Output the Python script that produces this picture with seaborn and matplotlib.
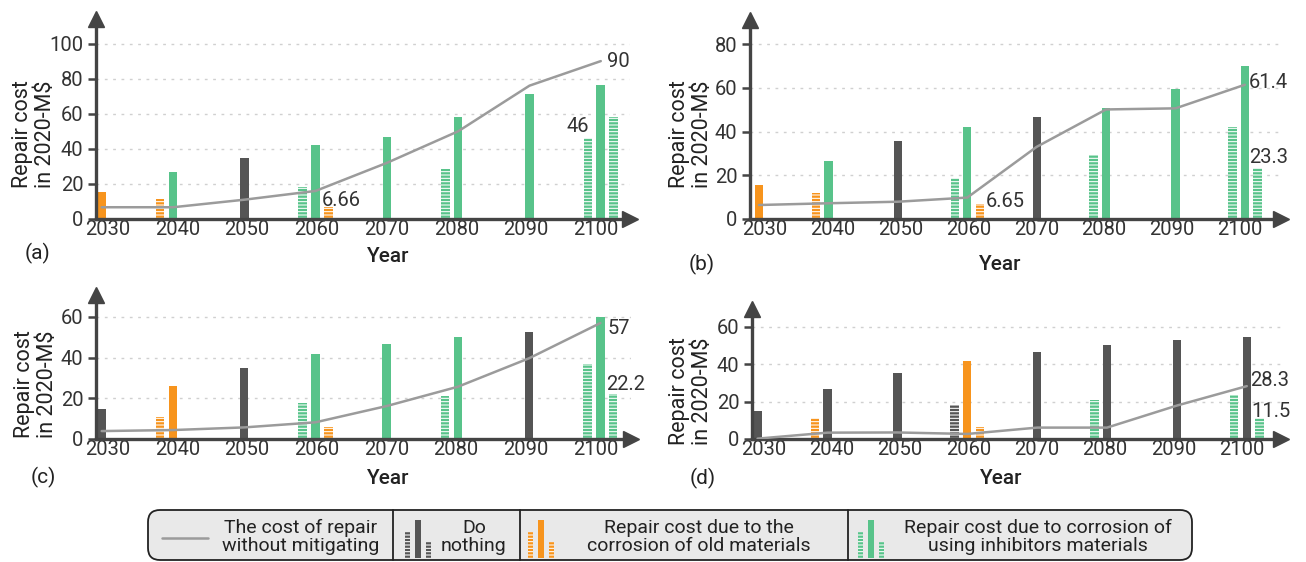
import numpy as np
import pandas as pd
import matplotlib.pyplot as plt
import seaborn as sns
from matplotlib.patches import FancyBboxPatch, Rectangle
from matplotlib.lines import Line2D
from matplotlib.transforms import Affine2D, ScaledTranslation

sns.set_theme(style='white')
plt.rcParams['font.family'] = ['Roboto', 'DejaVu Sans']
plt.rcParams['hatch.linewidth'] = 0.75

nan = np.nan
years = [2030, 2040, 2050, 2060, 2070, 2080, 2090, 2100]

# (a)
a_line = [6.7, 6.7, 11, 16, 32, 50, 76, 90]
a_mid = [15.5, 27, 34.5, 42, 46.5, 58, 71.5, 76.5]
a_mid_cat = ['old', 'inh', 'none', 'inh', 'inh', 'inh', 'inh', 'inh']
a_left = [nan, 11.5, nan, 18.5, nan, 28.7, nan, 46]
a_left_cat = [None, 'old', None, 'inh', None, 'inh', None, 'inh']
a_right = [nan, nan, nan, 6.66, nan, nan, nan, 58]
a_right_cat = [None, None, None, 'old', None, None, None, 'inh']

# (b)
b_line = [6.4, 7.2, 7.9, 9.8, 33, 50.1, 50.6, 61.4]
b_mid = [15.5, 26.7, 35.7, 42.2, 46.8, 50.6, 59.4, 70]
b_mid_cat = ['old', 'inh', 'none', 'inh', 'none', 'inh', 'inh', 'inh']
b_left = [nan, 12, nan, 18.6, nan, 29.3, nan, 42.2]
b_left_cat = [None, 'old', None, 'inh', None, 'inh', None, 'inh']
b_right = [nan, nan, nan, 6.65, nan, nan, nan, 23.3]
b_right_cat = [None, None, None, 'old', None, None, None, 'inh']

# (c)
c_line = [3.9, 4.4, 5.7, 8.2, 16.2, 25.7, 39.7, 57]
c_mid = [14.6, 26.2, 35.1, 41.6, 46.7, 50.3, 52.8, 59.8]
c_mid_cat = ['none', 'old', 'none', 'inh', 'inh', 'inh', 'none', 'inh']
c_left = [nan, 11, nan, 17.7, nan, 21.1, nan, 36.7]
c_left_cat = [None, 'old', None, 'inh', None, 'inh', None, 'inh']
c_right = [nan, nan, nan, 6, nan, nan, nan, 22.2]
c_right_cat = [None, None, None, 'old', None, None, None, 'inh']

# (d)
d_line = [0.2, 3.4, 3.5, 2.7, 6.1, 6.1, 17.9, 28.3]
d_mid = [15, 26.8, 35.2, 41.8, 46.4, 50.2, 53, 54.8]
d_mid_cat = ['none', 'none', 'none', 'old', 'none', 'none', 'none', 'none']
d_left = [nan, 11.4, nan, 18.2, nan, 20.9, nan, 23.6]
d_left_cat = [None, 'old', None, 'none', None, 'inh', None, 'inh']
d_right = [nan, nan, nan, 6.6, nan, nan, nan, 11.5]
d_right_cat = [None, None, None, 'old', None, None, None, 'inh']

legend_labels = ['The cost of repair\nwithout mitigating', 'Do\nnothing',
                 'Repair cost due to the\ncorrosion of old materials',
                 'Repair cost due to corrosion of\nusing inhibitors materials']

colors = {'none': '#555555', 'old': '#F7941D', 'inh': '#58C38A'}
line_col = '#9b9b9b'
axis_col = '#444444'
OFF = 1.8      # offset of the striped bars (years)
BAR_W = 1.2    # bar width (years)
W, H = 1306, 562

fig = plt.figure(figsize=(W / 100, H / 100), dpi=100)
# pixel coords measured from the top-left corner
tr = Affine2D().scale(1, -1).translate(0, H).scale(1 / W, 1 / H) + fig.transFigure


def draw_panel(rect, xlim, ylim, yticks, line, mid, mid_cat, left, left_cat, right, right_cat,
               tag, tag_xy, year_xy, ylab_xy, notes):
    l, t, r, b = rect
    ax = fig.add_axes([l / W, 1 - b / H, (r - l) / W, (b - t) / H])
    rows = []
    for i, yr in enumerate(years):
        for off, vals, cats in [(-OFF, left, left_cat), (0, mid, mid_cat), (OFF, right, right_cat)]:
            if not np.isnan(vals[i]):
                rows.append((yr + off, vals[i], cats[i]))
    df = pd.DataFrame(rows, columns=['x', 'value', 'cat'])
    w = BAR_W / np.diff(np.unique(df['x'])).min()
    sns.barplot(data=df, x='x', y='value', hue='cat', palette=colors, native_scale=True,
                width=w, dodge=False, legend=False, errorbar=None, linewidth=0,
                saturation=1, ax=ax)
    for p in ax.patches:
        c = p.get_x() + p.get_width() / 2
        if abs(c - round(c / 10) * 10) > 0.5:
            p.set_hatch('-----')
            p.set_edgecolor('white')
            p.set_linewidth(0)
    sns.lineplot(x=years, y=line, color=line_col, linewidth=1.8, ax=ax, zorder=3)

    ax.set_xlim(*xlim)
    ax.set_ylim(*ylim)
    ax.set_xticks(years)
    ax.set_xticklabels([str(y) for y in years])
    ax.set_yticks(yticks)
    ax.set_axisbelow(True)
    ax.grid(axis='y', color='#d0d0d0', linestyle=(0, (2, 4)), linewidth=1)
    ax.grid(axis='x', visible=False)
    for s in ['top', 'right']:
        ax.spines[s].set_visible(False)
    for s in ['left', 'bottom']:
        ax.spines[s].set_color(axis_col)
        ax.spines[s].set_linewidth(2.4)
    ax.tick_params(axis='y', length=6, width=1.8, color=axis_col, pad=3,
                   labelsize=14.5, labelcolor='#333333', left=True)
    ax.tick_params(axis='x', length=0, pad=0.5, labelsize=14.5, labelcolor='#333333')
    # year labels sit a little right of the bars at the start, a little left at the end
    for k, tk in enumerate(ax.xaxis.get_major_ticks()):
        dx = 6 - 11 * k / (len(years) - 1)
        tk.label1.set_transform(tk.label1.get_transform()
                                + ScaledTranslation(dx / 100, 0, fig.dpi_scale_trans))
    ax.plot([1], [0], marker='>', ms=11, color=axis_col, transform=ax.transAxes, clip_on=False)
    ax.plot([0], [1], marker='^', ms=11, color=axis_col, transform=ax.transAxes, clip_on=False)

    ax.set_ylabel('Repair cost\nin 2020-M$', fontsize=15.5, color='#222222', linespacing=1.1)
    ax.yaxis.label.set_va('center')
    ax.yaxis.set_label_coords(ylab_xy[0], ylab_xy[1], transform=tr)
    ax.set_xlabel('Year', fontsize=15, color='#222222', fontweight='medium')
    ax.xaxis.set_label_coords(year_xy[0], year_xy[1], transform=tr)
    ax.xaxis.label.set_va('center')
    fig.text(tag_xy[0], tag_xy[1], tag, transform=tr, fontsize=15, color='#222222',
             ha='center', va='center')

    for txt, x, y, dx, dy, ha, va in notes:
        ax.annotate(txt, xy=(x, y), xytext=(dx * 0.72, dy * 0.72), textcoords='offset points',
                    ha=ha, va=va, fontsize=14.5, color='#333333', zorder=5)
    return ax


draw_panel((96, 19, 630, 219), (2029.2, 2104.1), (0, 114), [0, 20, 40, 60, 80, 100],
           a_line, a_mid, a_mid_cat, a_left, a_left_cat, a_right, a_right_cat,
           '(a)', (37, 253), (388, 257), (34, 134),
           [(f'{a_line[-1]:g}', years[-1], a_line[-1], 6, 0, 'left', 'center'),
            (f'{a_left[-1]:g}', years[-1] - OFF, a_left[-1], 1, 2, 'right', 'bottom'),
            (f'{a_right[3]:g}', years[3] + OFF, a_right[3], -7, 1, 'left', 'baseline')])

draw_panel((750, 20, 1281, 219), (2028.7, 2105.2), (0, 91), [0, 20, 40, 60, 80],
           b_line, b_mid, b_mid_cat, b_left, b_left_cat, b_right, b_right_cat,
           '(b)', (702, 264), (1000, 264), (691, 134),
           [(f'{b_line[-1]:g}', years[-1], b_line[-1], 4, 2, 'left', 'center'),
            (f'{b_right[-1]:g}', years[-1] + OFF, b_right[-1], -8, 5, 'left', 'baseline'),
            (f'{b_right[3]:g}', years[3] + OFF, b_right[3], 6, 3, 'left', 'center')])

draw_panel((96, 295, 631, 439), (2029.2, 2104.3), (0, 70.8), [0, 20, 40, 60],
           c_line, c_mid, c_mid_cat, c_left, c_left_cat, c_right, c_right_cat,
           '(c)', (43, 477), (388, 478), (36, 384),
           [(f'{c_line[-1]:g}', years[-1], c_line[-1], 7, -5, 'left', 'center'),
            (f'{c_right[-1]:g}', years[-1] + OFF, c_right[-1], -7, 4, 'left', 'baseline')])

draw_panel((752, 309, 1281, 439), (2029.2, 2104.9), (0, 69.6), [0, 20, 40, 60],
           d_line, d_mid, d_mid_cat, d_left, d_left_cat, d_right, d_right_cat,
           '(d)', (703, 478), (1001, 478), (691, 391),
           [(f'{d_line[-1]:g}', years[-1], d_line[-1], 3, 6, 'left', 'center'),
            (f'{d_right[-1]:g}', years[-1] + OFF, d_right[-1], -8, 1, 'left', 'baseline')])

# legend box drawn by hand
box = FancyBboxPatch((148, 510), 1192 - 148, 50, boxstyle='round,pad=0,rounding_size=12',
                     transform=tr, facecolor='#e9e9e9', edgecolor='#222222', linewidth=1.3)
fig.add_artist(box)
for xd in [393, 520, 848]:
    fig.add_artist(Line2D([xd, xd], [510, 560], transform=tr, color='#222222', linewidth=1.3))
fig.add_artist(Line2D([162, 208], [538, 538], transform=tr, color=line_col, linewidth=1.8))
for cx, cat in [(418, 'none'), (541, 'old'), (871, 'inh')]:
    col = colors[cat]
    fig.add_artist(Rectangle((cx - 3, 520), 6, 38, transform=tr, facecolor=col, linewidth=0))
    for x0, top in [(cx - 13, 532), (cx + 8, 542)]:
        fig.add_artist(Rectangle((x0, top), 5, 558 - top, transform=tr, facecolor=col,
                                 edgecolor='white', linewidth=0, hatch='-----'))
for cx, lab in zip([301, 474, 699, 1038], legend_labels):
    fig.text(cx, 537, lab, transform=tr, fontsize=14, color='#222222', ha='center',
             va='center', linespacing=1.0)

fig.savefig('out.png', dpi=100)
